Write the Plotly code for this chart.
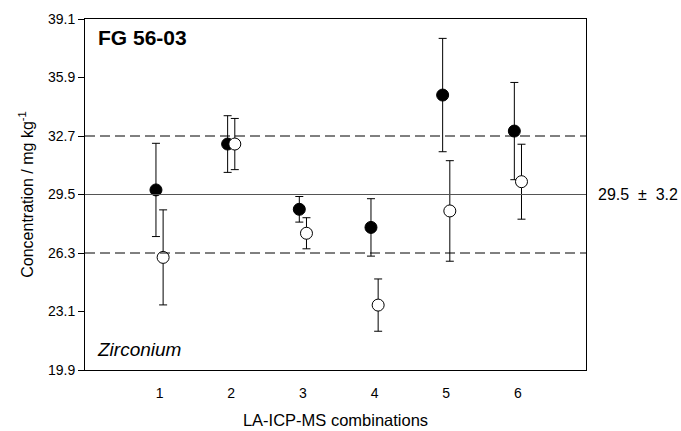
import plotly.graph_objects as go

combos = [1, 2, 3, 4, 5, 6]
solid_vals = [29.75, 32.26, 28.69, 27.70, 34.94, 32.97]
solid_err = [2.55, 1.55, 0.70, 1.57, 3.10, 2.66]
open_vals = [26.06, 32.26, 27.38, 23.45, 28.60, 30.20]
open_err = [2.60, 1.40, 0.85, 1.43, 2.75, 2.05]
ytick_vals = [19.9, 23.1, 26.3, 29.5, 32.7, 35.9, 39.1]
ref_mean = 29.5
ref_unc = 3.2
offset = 0.05

FONT = "Liberation Sans, Arial, sans-serif"

fig = go.Figure()

# reference lines
fig.add_hline(y=ref_mean, line=dict(color="#555555", width=1.2))
fig.add_hline(y=ref_mean + ref_unc, line=dict(color="black", width=1, dash="10px,5px"))
fig.add_hline(y=ref_mean - ref_unc, line=dict(color="black", width=1, dash="10px,5px"))

fig.add_trace(go.Scatter(
    x=[c - offset for c in combos], y=solid_vals, mode="markers",
    marker=dict(size=12, color="black", line=dict(color="black", width=1)),
    error_y=dict(type="data", array=solid_err, visible=True, color="black", thickness=1, width=4),
    showlegend=False))
fig.add_trace(go.Scatter(
    x=[c + offset for c in combos], y=open_vals, mode="markers",
    marker=dict(size=12, color="white", line=dict(color="black", width=1)),
    error_y=dict(type="data", array=open_err, visible=True, color="black", thickness=1, width=4),
    showlegend=False))

fig.add_annotation(x=0.022, y=0.946, xref="x domain", yref="y domain", text="<b>FG 56-03</b>",
                   showarrow=False, xanchor="left", yanchor="middle",
                   font=dict(family=FONT, size=21, color="black"))
fig.add_annotation(x=0.02, y=0.057, xref="x domain", yref="y domain", text="<i>Zirconium</i>",
                   showarrow=False, xanchor="left", yanchor="middle",
                   font=dict(family=FONT, size=19, color="black"))
fig.add_annotation(x=1.02, y=ref_mean, xref="x domain", yref="y",
                   text=f"{ref_mean}  \u00b1  {ref_unc}",
                   showarrow=False, xanchor="left", yanchor="middle",
                   font=dict(family=FONT, size=16, color="black"))

fig.update_layout(
    width=681, height=431,
    margin=dict(l=85, r=95, t=19, b=61, autoexpand=False),
    paper_bgcolor="white", plot_bgcolor="white",
    font=dict(family=FONT, size=14, color="black"),
    xaxis=dict(range=[-0.04, 6.95], tickvals=combos, ticks="", showgrid=False, zeroline=False,
               showline=True, linecolor="black", linewidth=1, mirror=True, automargin=False,
               tickfont=dict(size=14), ticklabelstandoff=10,
               title=dict(text="LA-ICP-MS combinations", font=dict(size=16.5), standoff=14)),
    yaxis=dict(range=[19.9, 39.1], tickvals=ytick_vals, ticktext=[f"{v:.1f}" for v in ytick_vals],
               ticks="outside", ticklen=6, tickcolor="black", showgrid=False, zeroline=False,
               showline=True, linecolor="black", linewidth=1, mirror=True, automargin=False,
               tickfont=dict(size=14),
               title=dict(text="Concentration / mg kg<sup>-1</sup>", font=dict(size=16), standoff=10)),
)

fig.write_html("out.html")
